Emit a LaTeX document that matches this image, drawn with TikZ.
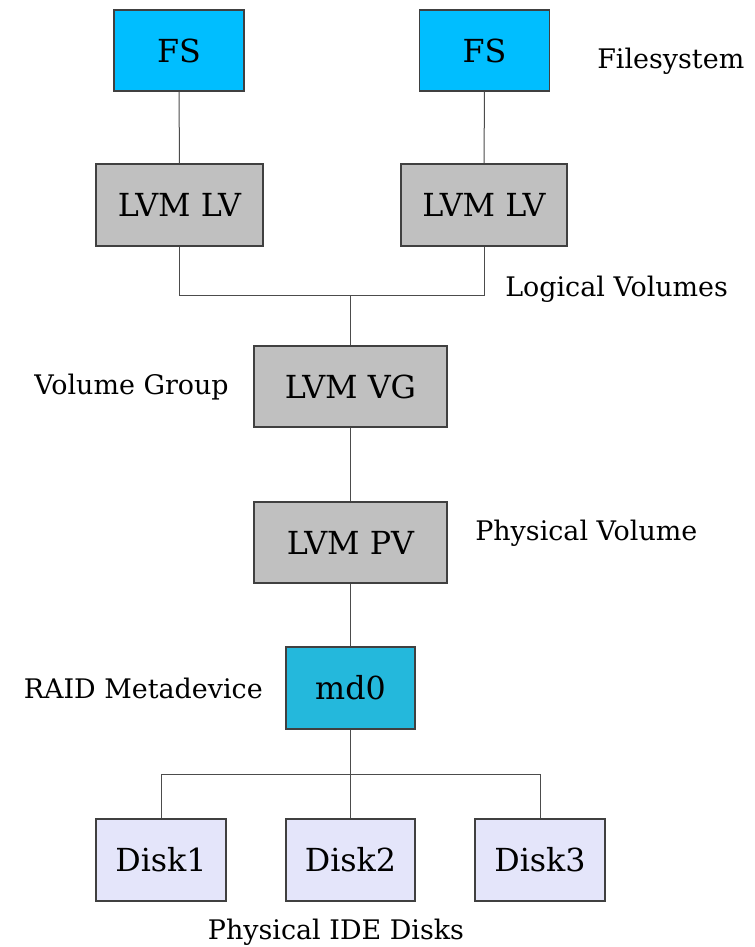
\documentclass[tikz,border=0pt]{standalone}
\usepackage{fontspec}
\setmainfont{DejaVu Serif}
\begin{document}
\begin{tikzpicture}[x=0.75pt,y=-0.75pt,
  box/.style={draw=black!75, line width=0.8pt, inner sep=0pt, font=\fontsize{23.8}{27}\selectfont},
  fsbox/.style={box, fill=fscol},
  lvmbox/.style={box, fill=lvmgray},
  mdbox/.style={box, fill=mdcol},
  diskbox/.style={box, fill=diskcol},
  lbl/.style={font=\fontsize{20.2}{23}\selectfont, inner sep=0pt},
  wire/.style={draw=black!70, line width=0.75pt}]
\definecolor{fscol}{RGB}{0,190,255}
\definecolor{mdcol}{RGB}{36,184,220}
\definecolor{lvmgray}{RGB}{192,192,192}
\definecolor{diskcol}{RGB}{228,229,250}
\useasboundingbox (0,0) rectangle (755,947);
\fill[white] (0,0) rectangle (755,947);

% filesystems
\node[fsbox, minimum width=130*0.75pt, minimum height=81*0.75pt] (fs1) at (179,50.5) {FS};
\node[fsbox, minimum width=130*0.75pt, minimum height=81*0.75pt] (fs2) at (484.5,50.5) {FS};
% logical volumes
\node[lvmbox, minimum width=167*0.75pt, minimum height=82*0.75pt] (lv1) at (179.5,205) {LVM LV};
\node[lvmbox, minimum width=166*0.75pt, minimum height=82*0.75pt] (lv2) at (484,205) {LVM LV};
% volume group and physical volume
\node[lvmbox, minimum width=193*0.75pt, minimum height=81*0.75pt] (vg) at (350.5,386.5) {LVM VG};
\node[lvmbox, minimum width=193*0.75pt, minimum height=81*0.75pt] (pv) at (350.5,542.5) {LVM PV};
% raid device
\node[mdbox, minimum width=129*0.75pt, minimum height=82*0.75pt] (md) at (350.5,688) {md0};
% disks
\node[diskbox, minimum width=130*0.75pt, minimum height=82*0.75pt] (d1) at (161,860) {Disk1};
\node[diskbox, minimum width=129*0.75pt, minimum height=82*0.75pt] (d2) at (350.5,860) {Disk2};
\node[diskbox, minimum width=130*0.75pt, minimum height=82*0.75pt] (d3) at (540,860) {Disk3};

% junction points
\coordinate (jlv) at (350.5,295.5);
\coordinate (jdisk) at (350.5,774);

% connectors
\draw[wire] (fs1.south) -- (lv1.north);
\draw[wire] (fs2.south) -- (lv2.north);
\draw[wire] (lv1.south) |- (jlv) -| (lv2.south);
\draw[wire] (jlv) -- (vg.north);
\draw[wire] (vg.south) -- (pv.north);
\draw[wire] (pv.south) -- (md.north);
\draw[wire] (md.south) -- (jdisk);
\draw[wire] (d1.north) |- (jdisk) -| (d3.north);
\draw[wire] (jdisk) -- (d2.north);

% layer labels
\node[lbl, anchor=west] (lfs) at (597,61) {Filesystem};
\node[lbl, anchor=west] (llv) at (505,289) {Logical Volumes};
\node[lbl, anchor=east] (lvg) at (229,387) {Volume Group};
\node[lbl, anchor=west] (lpv) at (475,533) {Physical Volume};
\node[lbl, anchor=east] (lmd) at (263,688) {RAID Metadevice};
\node[lbl] (ldisk) at (336,932) {Physical IDE Disks};
\end{tikzpicture}
\end{document}
